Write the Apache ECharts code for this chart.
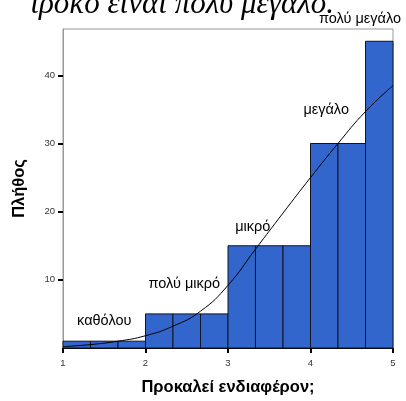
<!DOCTYPE html>
<html><head><meta charset="utf-8">
<script src="https://cdn.jsdelivr.net/npm/echarts@6/dist/echarts.min.js"></script>
<style>html,body{margin:0;padding:0;background:#fff}#c{width:406px;height:401px}</style>
</head><body><div id="c"></div>
<script>
// Histogram bins (lower edge, upper edge) and counts
const binStarts = [1, 1.333, 1.667, 2, 2.333, 2.667, 3, 3.333, 3.667, 4, 4.333, 4.667];
const binEnds   = [1.333, 1.667, 2, 2.333, 2.667, 3, 3.333, 3.667, 4, 4.333, 4.667, 5];
const counts    = [1, 1, 1, 5, 5, 5, 15, 15, 15, 30, 30, 45];
// Normal curve
const curveX = [1, 1.333, 1.667, 2, 2.333, 2.667, 3, 3.333, 3.667, 4, 4.333, 4.667, 5];
const curveY = [0.2, 0.5, 1.0, 1.8, 3.2, 5.4, 9.2, 14.5, 19.8, 25.0, 30.0, 34.7, 38.5];
const yTicks = [10, 20, 30, 40];
const xTicks = [1, 2, 3, 4, 5];
// Category annotations
const annoText = ['καθόλου', 'πολύ μικρό', 'μικρό', 'μεγάλο', 'πολύ μεγάλο'];
const annoX = [1.5, 2.47, 3.3, 4.19, 4.6];
const annoY = [3.9, 9.4, 17.7, 34.9, 48.3];

const chart = echarts.init(document.getElementById('c'), null, {renderer: 'canvas'});
const barData = counts.map((c, i) => [binStarts[i], binEnds[i], c]);
const option = {
  animation: false,
  grid: {left: 63, right: 13, top: 29, bottom: 50, show: true, borderColor: '#999', borderWidth: 1},
  xAxis: {
    type: 'value', min: 1, max: 5, interval: 1,
    name: 'Προκαλεί ενδιαφέρον;', nameLocation: 'middle', nameGap: 31,
    nameTextStyle: {fontFamily: 'Liberation Sans', fontWeight: 'bold', fontSize: 16.5, color: '#000'},
    axisLine: {show: true, lineStyle: {color: '#000', width: 1}},
    axisTick: {show: true, length: 5, lineStyle: {color: '#000', width: 2}, customValues: xTicks},
    axisLabel: {fontFamily: 'Liberation Sans', fontSize: 9.5, color: '#333', margin: 10, customValues: xTicks},
    splitLine: {show: false}
  },
  yAxis: {
    type: 'value', min: 0, max: 46.8, interval: 10,
    name: 'Πλήθος', nameLocation: 'middle', nameGap: 35,
    nameTextStyle: {fontFamily: 'Liberation Sans', fontWeight: 'bold', fontSize: 16.5, color: '#000'},
    axisLine: {show: true, lineStyle: {color: '#999', width: 1}},
    axisTick: {show: true, length: 5, lineStyle: {color: '#000', width: 2}, customValues: yTicks},
    axisLabel: {fontFamily: 'Liberation Sans', fontSize: 9.5, color: '#333', margin: 8, customValues: yTicks},
    splitLine: {show: false}
  },
  series: [
    {
      type: 'custom',
      data: barData,
      encode: {x: [0, 1], y: 2},
      renderItem: function (params, api) {
        const p0 = api.coord([api.value(0), api.value(2)]);
        const p1 = api.coord([api.value(1), 0]);
        return {
          type: 'rect',
          shape: {x: p0[0], y: p0[1], width: p1[0] - p0[0], height: p1[1] - p0[1]},
          style: {fill: '#3366cc', stroke: '#14141e', lineWidth: 1}
        };
      }
    },
    {
      type: 'line', smooth: 0.5, symbol: 'none',
      data: curveX.map((x, i) => [x, curveY[i]]),
      lineStyle: {color: '#000', width: 1}
    }
  ]
};
chart.setOption(option);
const graphics = [
  {type: 'text', x: 334, y: -11,
   style: {text: 'ιρόκο είναι πολύ μεγάλο.', font: 'italic 31px "Liberation Serif"', fill: '#000', textAlign: 'right'}}
];
annoText.forEach((t, i) => {
  const p = chart.convertToPixel({gridIndex: 0}, [annoX[i], annoY[i]]);
  graphics.push({type: 'text', x: p[0], y: p[1], z: 10,
    style: {text: t, font: '14.5px "Liberation Sans"', fill: '#000', textAlign: 'center', textVerticalAlign: 'middle'}});
});
chart.setOption({graphic: graphics});
</script></body></html>
